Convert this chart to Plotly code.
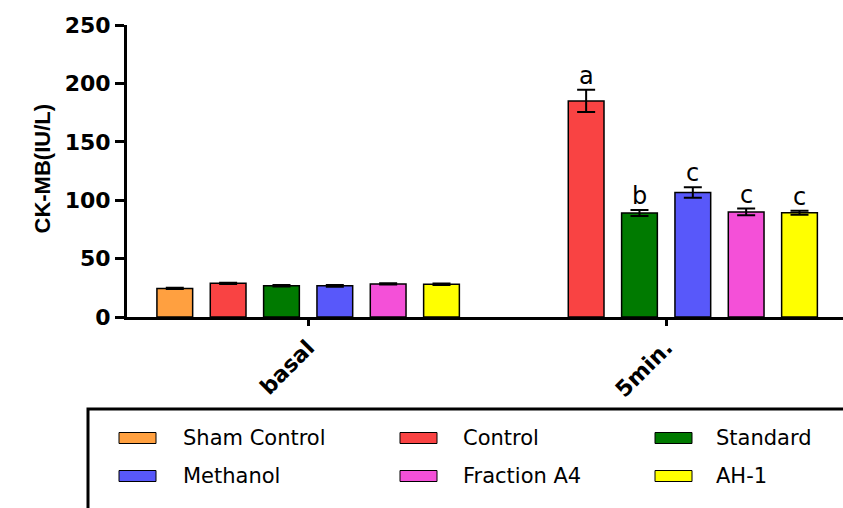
import plotly.graph_objects as go

# ---- data ---------------------------------------------------------------
categories = ["basal", "5min."]
series_names = ["Sham Control", "Control", "Standard", "Methanol", "Fraction A4", "AH-1"]
series_colors = ["#FFA040", "#F94343", "#007A00", "#5858FA", "#F450D8", "#FFFF00"]

basal_means = [24.5, 28.8, 26.8, 26.7, 28.3, 28.0]
basal_sem = [0.5, 0.6, 0.7, 0.7, 0.5, 0.6]
min5_means = [None, 185.0, 89.0, 106.5, 90.0, 89.3]
min5_sem = [None, 9.5, 2.6, 4.5, 2.8, 1.7]
min5_letters = [None, "a", "b", "c", "c", "c"]

y_ticks = [0, 50, 100, 150, 200, 250]
y_title = "CK-MB(IU/L)"

# ---- layout constants (pixels) -------------------------------------------
W, H = 843, 508
ML, MR, MT, MB = 127, 0, 25, 191
PW, PH = W - ML - MR, H - MT - MB
BARGAP = 0.106
BARGROUPGAP = 0.33
SLOT = (1 - BARGAP) / len(series_names)


def px_x(px):
    return (px - ML) / PW


def px_y(py):
    return (H - MB - py) / PH


fig = go.Figure()

for i, name in enumerate(series_names):
    fig.add_trace(go.Bar(
        name=name,
        x=categories,
        y=[basal_means[i], min5_means[i]],
        marker=dict(color=series_colors[i], line=dict(color="black", width=1.5)),
        error_y=dict(type="data", array=[basal_sem[i], min5_sem[i]],
                     color="black", thickness=2, width=9, visible=True),
        showlegend=False,
    ))

# significance letters above the 5 min bars
n = len(series_names)
for i, letter in enumerate(min5_letters):
    if letter is None:
        continue
    fig.add_annotation(
        x=1 + (i - (n - 1) / 2) * SLOT, xref="x",
        y=min5_means[i] + min5_sem[i], yref="y",
        text=letter, showarrow=False, yanchor="bottom", yshift=-2,
        font=dict(family="DejaVu Sans", size=24, color="black"),
    )

# y axis title
fig.add_annotation(
    x=px_x(27), y=px_y(169), xref="paper", yref="paper",
    text=y_title, textangle=-90, showarrow=False,
    font=dict(family="Liberation Sans", size=22, color="black", weight="bold"),
)

# legend box with swatches
fig.add_shape(type="rect", xref="paper", yref="paper",
              x0=px_x(88), x1=px_x(W + 20), y0=px_y(409), y1=px_y(H + 20),
              line=dict(color="black", width=3), fillcolor="rgba(0,0,0,0)")

col_swatch = [119, 400, 655]
col_text = [181, 461, 714]
row_y = [438, 476]
for i, name in enumerate(series_names):
    r, c = divmod(i, 3)
    cy = row_y[r]
    fig.add_shape(type="rect", xref="paper", yref="paper",
                  x0=px_x(col_swatch[c]), x1=px_x(col_swatch[c] + 37),
                  y0=px_y(cy - 5.5), y1=px_y(cy + 5.5),
                  line=dict(color="black", width=1), fillcolor=series_colors[i])
    fig.add_annotation(
        x=px_x(col_text[c]), y=px_y(cy), xref="paper", yref="paper",
        text=name, showarrow=False, xanchor="left", yanchor="middle",
        font=dict(family="DejaVu Sans", size=21, color="black"),
    )

fig.update_layout(
    width=W, height=H,
    margin=dict(l=ML, r=MR, t=MT, b=MB, pad=0),
    barmode="group", bargap=BARGAP, bargroupgap=BARGROUPGAP,
    plot_bgcolor="white", paper_bgcolor="white",
    showlegend=False,
)
fig.update_xaxes(
    type="category", categoryorder="array", categoryarray=categories,
    range=[-0.506, 1.494],
    showline=True, linecolor="black", linewidth=3,
    ticks="outside", ticklen=6, tickwidth=3, tickcolor="black",
    tickangle=-45, showgrid=False, zeroline=False,
    tickfont=dict(family="DejaVu Sans", size=22, color="black", weight="bold"),
)
fig.update_yaxes(
    range=[0, 250], tickvals=y_ticks,
    showline=True, linecolor="black", linewidth=3,
    ticks="outside", ticklen=9, tickwidth=3, tickcolor="black",
    showgrid=False, zeroline=False,
    tickfont=dict(family="DejaVu Sans", size=22, color="black", weight="bold"),
)

fig.write_html("out.html")
